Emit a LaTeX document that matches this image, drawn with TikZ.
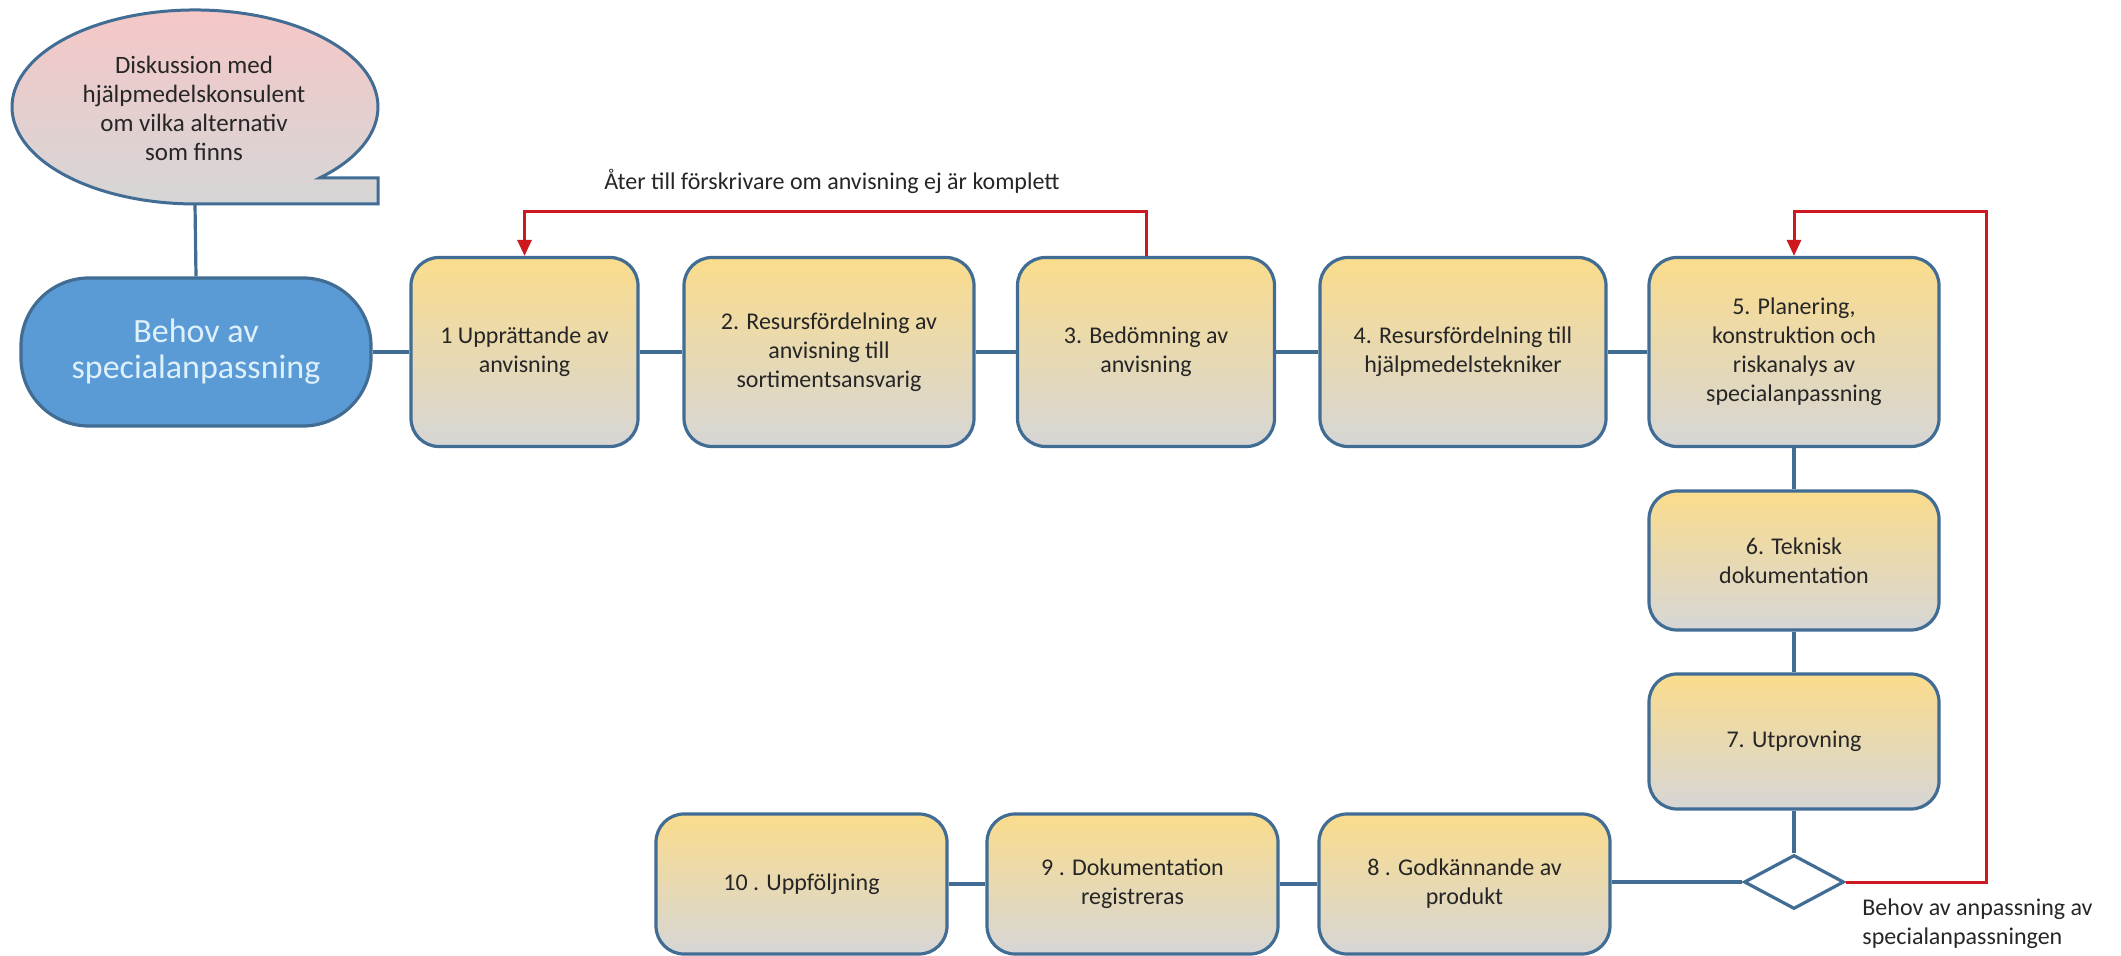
\documentclass[tikz,border=0pt]{standalone}
\usepackage{fontspec}
\setmainfont{Carlito}
\usetikzlibrary{arrows.meta,shapes.geometric}
\definecolor{bord}{RGB}{65,108,148}
\definecolor{boxtop}{RGB}{250,220,140}
\definecolor{boxbot}{RGB}{214,214,214}
\definecolor{redl}{RGB}{204,24,30}
\definecolor{behovfill}{RGB}{91,155,213}
\definecolor{behovtext}{RGB}{222,240,250}
\definecolor{pinktop}{RGB}{247,198,198}
\definecolor{txt}{RGB}{38,38,38}
\begin{document}
\begin{tikzpicture}[x=0.5pt,y=-0.5pt,
  stepbox/.style={draw=bord, line width=1.6pt, rounded corners=14pt, top color=boxtop, bottom color=boxbot,
    align=center, font=\fontsize{12}{14.5}\selectfont, text=txt, inner sep=2pt},
  link/.style={draw=bord, line width=1.6pt},
  back/.style={draw=redl, line width=1.5pt, -{Triangle[length=8pt,width=7pt]}},
  lbl/.style={font=\fontsize{12}{14.5}\selectfont, text=txt, inner sep=0pt}
]
\useasboundingbox (0,0) rectangle (2121,956);

% speech bubble
\path[draw=bord, line width=1.5pt, top color=pinktop, bottom color=boxbot]
  (319.8,177.9) arc[start angle=-47, end angle=270, x radius=91.5pt, y radius=48.5pt]
  -- (378,204) -- (378,178) -- cycle;
\coordinate (bubb) at (195,204);
\node[lbl, align=center, font=\fontsize{12.5}{14.5}\selectfont] (bubtext) at (194,108) {Diskussion med\\hjälpmedelskonsulent\\om vilka alternativ\\som finns};

% start node
\node[draw=bord, line width=1.6pt, fill=behovfill, rounded corners=34pt, minimum width=175pt, minimum height=74pt,
  align=center, text=behovtext, font=\fontsize{17}{18}\selectfont] (behov) at (196,352) {Behov av\\specialanpassning};

% step boxes
\node[stepbox, minimum width=113.5pt, minimum height=94.5pt] (b1) at (524.5,352) {1 Upprättande av\\anvisning};
\node[stepbox, minimum width=145pt, minimum height=94.5pt] (b2) at (829,352) {2. Resursfördelning av\\anvisning till\\sortimentsansvarig};
\node[stepbox, minimum width=128.5pt, minimum height=94.5pt] (b3) at (1146,352) {3. Bedömning av\\anvisning};
\node[stepbox, minimum width=143pt, minimum height=94.5pt] (b4) at (1463,352) {4. Resursfördelning till\\hjälpmedelstekniker};
\node[stepbox, minimum width=145pt, minimum height=94.5pt] (b5) at (1794,352) {5. Planering,\\konstruktion och\\riskanalys av\\specialanpassning};
\node[stepbox, minimum width=145pt, minimum height=69.5pt] (b6) at (1794,560.5) {6. Teknisk\\dokumentation};
\node[stepbox, minimum width=145pt, minimum height=67.5pt] (b7) at (1794,741.5) {7. Utprovning};
\node[draw=bord, line width=1.6pt, fill=white, diamond, aspect=1.85, minimum width=50pt, minimum height=27pt, inner sep=0pt] (dia) at (1794,882) {};
\node[stepbox, minimum width=145.5pt, minimum height=70pt] (b8) at (1464.5,884) {8 . Godkännande av\\produkt};
\node[stepbox, minimum width=145.5pt, minimum height=70pt] (b9) at (1132.5,884) {9 . Dokumentation\\registreras};
\node[stepbox, minimum width=145.5pt, minimum height=70pt] (b10) at (801.5,884) {10 . Uppföljning};

% connectors
\draw[link] (bubb) -- (behov.north);
\draw[link] (behov.east) -- (b1.west);
\draw[link] (b1.east) -- (b2.west);
\draw[link] (b2.east) -- (b3.west);
\draw[link] (b3.east) -- (b4.west);
\draw[link] (b4.east) -- (b5.west);
\draw[link] (b5.south) -- (b6.north);
\draw[link] (b6.south) -- (b7.north);
\draw[link] (b7.south) -- (dia.north);
\draw[link] (dia.west) -- (b8.east |- dia.west);
\draw[link] (b8.west) -- (b9.east);
\draw[link] (b9.west) -- (b10.east);

% return loops
\coordinate (topline) at (0,212);
\coordinate (rightline) at (1986,0);
\draw[back] (b3.north) -- (b3.north |- topline) -| (b1.north);
\draw[back] (dia.east) -- (rightline |- dia.east) -- (rightline |- topline) -| (b5.north);

\node[lbl] (backtext) at (832,181) {Åter till förskrivare om anvisning ej är komplett};
\node[lbl, align=left, anchor=north west] (diatext) at (1862,898) {Behov av anpassning av\\specialanpassningen};
\end{tikzpicture}
\end{document}
